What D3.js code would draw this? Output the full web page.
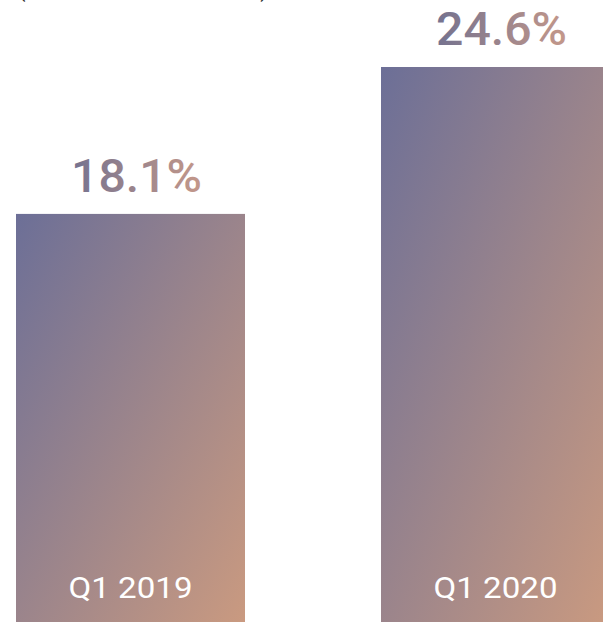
<!DOCTYPE html>
<html>
<head>
<meta charset="utf-8">
<script src="https://cdn.jsdelivr.net/npm/d3@7"></script>
<style>
  html, body { margin: 0; padding: 0; background: #ffffff; }
  svg { display: block; }
</style>
</head>
<body>
<div id="chart"></div>
<script>
// ---- data ----
const categories = ["Q1 2019", "Q1 2020"];
const values = [18.1, 24.6];
const valueLabels = ["18.1%", "24.6%"];
const subtitle = "(% of total sales)";

// ---- layout ----
const W = 603, H = 622;
const svg = d3.select("#chart").append("svg")
  .attr("width", W).attr("height", H);

const defs = svg.append("defs");
const barGrad = defs.append("linearGradient")
  .attr("id", "barGrad")
  .attr("x1", 0).attr("y1", 0).attr("x2", 1).attr("y2", 1);
barGrad.append("stop").attr("offset", "0%").attr("stop-color", "#6c6f97");
barGrad.append("stop").attr("offset", "100%").attr("stop-color", "#ca9a80");

const textGrad = defs.append("linearGradient")
  .attr("id", "textGrad")
  .attr("x1", 0).attr("y1", 0).attr("x2", 1).attr("y2", 0);
textGrad.append("stop").attr("offset", "0%").attr("stop-color", "#74728f");
textGrad.append("stop").attr("offset", "100%").attr("stop-color", "#c4988a");

const x = d3.scaleBand()
  .domain(categories)
  .range([16, 610])
  .paddingInner(136 / 365)
  .paddingOuter(0);

const y = d3.scaleLinear()
  .domain([0, 24.6])
  .range([623, 67]);

const data = categories.map((c, i) => ({ c, v: values[i], label: valueLabels[i] }));

// cut-off subtitle at the top (as in the reference)
svg.append("text")
  .attr("x", 18).attr("y", -3)
  .attr("textLength", 250)
  .attr("lengthAdjust", "spacing")
  .attr("font-family", "Roboto, 'Noto Sans', sans-serif")
  .attr("font-size", 22)
  .attr("fill", "#333333")
  .text(subtitle);

const g = svg.append("g");

g.selectAll("rect.bar").data(data).join("rect")
  .attr("class", "bar")
  .attr("x", d => x(d.c))
  .attr("y", d => y(d.v))
  .attr("width", x.bandwidth())
  .attr("height", d => y(0) - y(d.v))
  .attr("fill", "url(#barGrad)");

g.selectAll("text.val").data(data).join("text")
  .attr("class", "val")
  .attr("x", d => x(d.c) + x.bandwidth() / 2 + 6)
  .attr("y", d => y(d.v) - 22)
  .attr("text-anchor", "middle")
  .attr("textLength", 131)
  .attr("lengthAdjust", "spacingAndGlyphs")
  .attr("font-family", "Roboto, 'Noto Sans', sans-serif")
  .attr("font-weight", 500)
  .attr("font-size", 47)
  .attr("fill", "url(#textGrad)")
  .text(d => d.label);

g.selectAll("text.cat").data(data).join("text")
  .attr("class", "cat")
  .attr("x", d => x(d.c) + x.bandwidth() / 2)
  .attr("y", 598)
  .attr("text-anchor", "middle")
  .attr("textLength", 124)
  .attr("lengthAdjust", "spacingAndGlyphs")
  .attr("font-family", "Roboto, 'Noto Sans', sans-serif")
  .attr("font-size", 30)
  .attr("fill", "#ffffff")
  .text(d => d.c);
</script>
</body>
</html>
